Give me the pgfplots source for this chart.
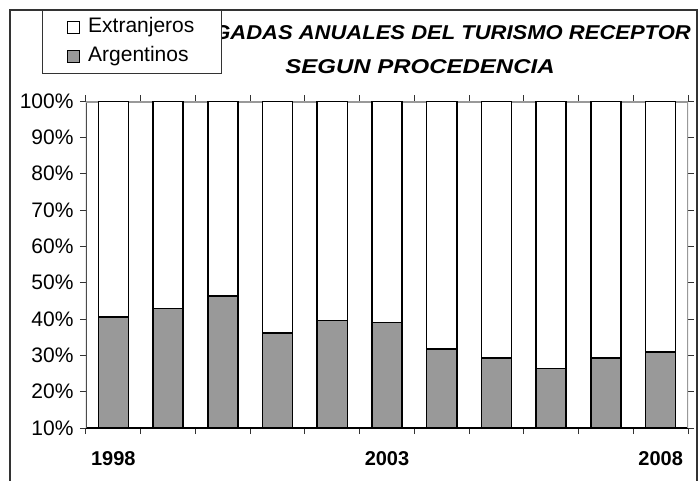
\documentclass[border=0pt]{standalone}
\usepackage{pgfplots}
\pgfplotsset{compat=1.18}
\usepackage{fontspec}
\setmainfont{Liberation Sans}
\begin{document}
\begin{tikzpicture}
\path[use as bounding box] (0pt,0pt) rectangle (700pt,480pt);
\draw[black!80, line width=1.5pt] (10pt,-2pt) -- (10pt,470pt) -- (697pt,470pt) -- (697pt,-2pt);
\node[font=\fontsize{20}{24}\selectfont\bfseries\itshape, anchor=east, inner sep=0pt] at (691pt,447pt)
  {\scalebox{1.10}[1]{LLEGADAS ANUALES DEL TURISMO RECEPTOR}};
\node[font=\fontsize{20}{24}\selectfont\bfseries\itshape, inner sep=0pt] at (420pt,413pt)
  {\scalebox{1.2}[1]{SEGUN PROCEDENCIA}};
\begin{axis}[
  at={(86pt,52pt)}, anchor=south west,
  scale only axis, width=602pt, height=327pt,
  ybar stacked, bar width=0.55,
  xmin=-0.5, xmax=10.5, ymin=10, ymax=100,
  xtick={-0.5,0.5,...,10.5}, xticklabels={},
  extra x ticks={0,5,10}, extra x tick labels={1998,2003,2008},
  extra x tick style={major tick length=0pt, tick label style={font=\fontsize{20}{24}\selectfont\bfseries, yshift=-20pt}},
  ytick={10,20,...,100},
  yticklabel={\pgfmathprintnumber{\tick}\%},
  /pgf/number format/assume math mode=true,
  ticklabel style={font=\fontsize{21}{25}\selectfont},
  yticklabel style={xshift=-3pt},
  tick align=outside, major tick length=6pt,
  tick style={black!80, line width=1pt},
  axis line style={draw=none},
  clip=true,
  legend style={at={(-0.0731,1.2783)}, anchor=north west, draw=black!80, line width=0.8pt, fill=white,
    font=\fontsize{21}{25}\selectfont, row sep=7pt, inner xsep=25pt, inner ysep=6pt,
    nodes={text height=14pt, text depth=4pt},
    /tikz/every odd column/.append style={column sep=6pt}},
  legend cell align=left, reverse legend,
  legend image code/.code={\draw[#1, line width=0.8pt, draw=black] (0pt,-6pt) rectangle (12pt,6pt);},
]
\addplot[fill=black!40, draw=black, line width=1.5pt] coordinates {
(0,40.6) (1,42.9) (2,46.3) (3,36.1) (4,39.6) (5,39.0) (6,31.7) (7,29.3) (8,26.4) (9,29.3) (10,30.9)};
\addlegendentry{Argentinos}
\addplot[fill=white, draw=black, line width=1.5pt] coordinates {
(0,59.4) (1,57.1) (2,53.7) (3,63.9) (4,60.4) (5,61.0) (6,68.3) (7,70.7) (8,73.6) (9,70.7) (10,69.1)};
\addlegendentry{Extranjeros}
\draw[black!40, line width=3pt] (rel axis cs:0,1) -- (rel axis cs:1,1) -- (rel axis cs:1,0);
\draw[black!70, line width=1.5pt] (rel axis cs:0,0) -- (rel axis cs:0,1);
\draw[black, line width=1.5pt] (rel axis cs:0,0) -- (rel axis cs:1,0);
\end{axis}
\end{tikzpicture}
\end{document}
